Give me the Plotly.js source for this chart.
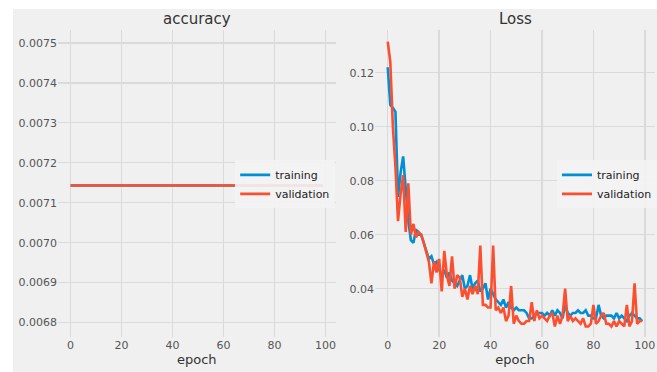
<!DOCTYPE html>
<html>
<head>
<meta charset="utf-8">
<script src="https://cdn.plot.ly/plotly-3.0.1.min.js"></script>
<style>
html,body{margin:0;padding:0;background:#ffffff;width:657px;height:372px;overflow:hidden;}
#chart{position:absolute;left:13px;top:9px;width:644px;height:363px;}
</style>
</head>
<body>
<div id="chart"></div>
<script>
const epochs = [0,1,2,3,4,5,6,7,8,9,10,11,12,13,14,15,16,17,18,19,20,21,22,23,24,25,26,27,28,29,30,31,32,33,34,35,36,37,38,39,40,41,42,43,44,45,46,47,48,49,50,51,52,53,54,55,56,57,58,59,60,61,62,63,64,65,66,67,68,69,70,71,72,73,74,75,76,77,78,79,80,81,82,83,84,85,86,87,88,89,90,91,92,93,94,95,96,97,98,99];

const accTraining = [0.0071429,0.0071429,0.0071429,0.0071429,0.0071429,0.0071429,0.0071429,0.0071429,0.0071429,0.0071429,
0.0071429,0.0071429,0.0071429,0.0071429,0.0071429,0.0071429,0.0071429,0.0071429,0.0071429,0.0071429,
0.0071429,0.0071429,0.0071429,0.0071429,0.0071429,0.0071429,0.0071429,0.0071429,0.0071429,0.0071429,
0.0071429,0.0071429,0.0071429,0.0071429,0.0071429,0.0071429,0.0071429,0.0071429,0.0071429,0.0071429,
0.0071429,0.0071429,0.0071429,0.0071429,0.0071429,0.0071429,0.0071429,0.0071429,0.0071429,0.0071429,
0.0071429,0.0071429,0.0071429,0.0071429,0.0071429,0.0071429,0.0071429,0.0071429,0.0071429,0.0071429,
0.0071429,0.0071429,0.0071429,0.0071429,0.0071429,0.0071429,0.0071429,0.0071429,0.0071429,0.0071429,
0.0071429,0.0071429,0.0071429,0.0071429,0.0071429,0.0071429,0.0071429,0.0071429,0.0071429,0.0071429,
0.0071429,0.0071429,0.0071429,0.0071429,0.0071429,0.0071429,0.0071429,0.0071429,0.0071429,0.0071429,
0.0071429,0.0071429,0.0071429,0.0071429,0.0071429,0.0071429,0.0071429,0.0071429,0.0071429,0.0071429];

const accValidation = [0.0071429,0.0071429,0.0071429,0.0071429,0.0071429,0.0071429,0.0071429,0.0071429,0.0071429,0.0071429,
0.0071429,0.0071429,0.0071429,0.0071429,0.0071429,0.0071429,0.0071429,0.0071429,0.0071429,0.0071429,
0.0071429,0.0071429,0.0071429,0.0071429,0.0071429,0.0071429,0.0071429,0.0071429,0.0071429,0.0071429,
0.0071429,0.0071429,0.0071429,0.0071429,0.0071429,0.0071429,0.0071429,0.0071429,0.0071429,0.0071429,
0.0071429,0.0071429,0.0071429,0.0071429,0.0071429,0.0071429,0.0071429,0.0071429,0.0071429,0.0071429,
0.0071429,0.0071429,0.0071429,0.0071429,0.0071429,0.0071429,0.0071429,0.0071429,0.0071429,0.0071429,
0.0071429,0.0071429,0.0071429,0.0071429,0.0071429,0.0071429,0.0071429,0.0071429,0.0071429,0.0071429,
0.0071429,0.0071429,0.0071429,0.0071429,0.0071429,0.0071429,0.0071429,0.0071429,0.0071429,0.0071429,
0.0071429,0.0071429,0.0071429,0.0071429,0.0071429,0.0071429,0.0071429,0.0071429,0.0071429,0.0071429,
0.0071429,0.0071429,0.0071429,0.0071429,0.0071429,0.0071429,0.0071429,0.0071429,0.0071429,0.0071429];

const lossTraining = [0.122,0.108,0.107,0.1055,0.074,0.083,0.089,0.075,0.065,0.058,
0.057,0.062,0.060,0.060,0.057,0.054,0.051,0.052,0.049,0.050,
0.047,0.045,0.047,0.044,0.046,0.043,0.042,0.041,0.043,0.045,
0.040,0.041,0.045,0.040,0.042,0.043,0.039,0.040,0.042,0.036,
0.040,0.038,0.036,0.035,0.034,0.036,0.033,0.035,0.033,0.032,
0.033,0.032,0.032,0.032,0.031,0.029,0.029,0.030,0.031,0.031,
0.031,0.030,0.031,0.030,0.032,0.030,0.032,0.031,0.029,0.034,
0.031,0.030,0.031,0.031,0.032,0.031,0.031,0.032,0.030,0.030,
0.029,0.029,0.034,0.030,0.029,0.030,0.030,0.030,0.029,0.031,
0.029,0.030,0.029,0.028,0.030,0.031,0.030,0.029,0.029,0.028];

const lossValidation = [0.1315,0.124,0.100,0.085,0.065,0.075,0.082,0.061,0.079,0.060,
0.064,0.059,0.061,0.060,0.057,0.053,0.050,0.042,0.050,0.046,
0.051,0.039,0.054,0.045,0.041,0.052,0.040,0.045,0.044,0.037,
0.040,0.036,0.041,0.038,0.041,0.038,0.056,0.034,0.034,0.033,
0.033,0.056,0.032,0.033,0.031,0.033,0.028,0.030,0.041,0.027,
0.030,0.028,0.027,0.027,0.028,0.028,0.035,0.028,0.032,0.029,
0.030,0.029,0.028,0.030,0.031,0.026,0.030,0.027,0.030,0.040,
0.028,0.030,0.028,0.029,0.028,0.027,0.029,0.026,0.026,0.027,
0.034,0.027,0.028,0.030,0.031,0.027,0.027,0.026,0.028,0.026,
0.028,0.027,0.026,0.034,0.026,0.028,0.042,0.027,0.028,0.028];

const seriesNames = ['training', 'validation'];
const panelTitles = ['accuracy', 'Loss'];
const xTicks = [0, 20, 40, 60, 80, 100];

const BLUE = '#008fd5', RED = '#fc4f30', GRID = '#dadada', BG = '#f0f0f0';
const FONT = 'DejaVu Sans, sans-serif';
const LW = 2.6;

const traces = [
  {x: epochs, y: accTraining, name: seriesNames[0], type: 'scatter', mode: 'lines', line: {color: BLUE, width: LW}, xaxis: 'x', yaxis: 'y', legend: 'legend'},
  {x: epochs, y: accValidation, name: seriesNames[1], type: 'scatter', mode: 'lines', line: {color: RED, width: LW}, xaxis: 'x', yaxis: 'y', legend: 'legend'},
  {x: epochs, y: lossTraining, name: seriesNames[0], type: 'scatter', mode: 'lines', line: {color: BLUE, width: LW}, xaxis: 'x2', yaxis: 'y2', legend: 'legend2'},
  {x: epochs, y: lossValidation, name: seriesNames[1], type: 'scatter', mode: 'lines', line: {color: RED, width: LW}, xaxis: 'x2', yaxis: 'y2', legend: 'legend2'}
];

const tickFont = {family: FONT, size: 11, color: '#555555'};
function xAxis(domain, anchor) {
  return {
    domain: domain, anchor: anchor, range: [-4.95, 103.95], automargin: false,
    tickvals: xTicks, ticktext: xTicks.map(String),
    showgrid: true, gridcolor: GRID, gridwidth: 1.5, zeroline: false, showline: false,
    ticks: '', tickfont: tickFont,
    title: {text: 'epoch', font: {family: FONT, size: 13, color: '#333333'}, standoff: 2}
  };
}
const legendCommon = {
  bgcolor: 'rgba(243,243,243,0.9)', borderwidth: 0,
  font: {family: FONT, size: 11, color: '#222222'},
  xref: 'container', yref: 'container',
  xanchor: 'left', yanchor: 'top', tracegroupgap: 0, itemwidth: 30
};

const layout = {
  width: 644, height: 363,
  paper_bgcolor: BG, plot_bgcolor: BG,
  margin: {l: 45, r: 2, t: 21, b: 35, autoexpand: false},
  font: {family: FONT},
  xaxis: xAxis([0, 0.465], 'y'),
  yaxis: {
    domain: [0, 1], anchor: 'x', range: [0.006764, 0.007532], automargin: false,
    dtick: 0.0001, tick0: 0.0068, tickformat: '.4f',
    showgrid: true, gridcolor: GRID, gridwidth: 1.5, zeroline: false, showline: false, ticks: '', tickfont: tickFont
  },
  xaxis2: xAxis([0.531, 1], 'y2'),
  yaxis2: {
    domain: [0, 1], anchor: 'x2', range: [0.0221, 0.1358], automargin: false,
    dtick: 0.02, tick0: 0, tickformat: '.2f',
    showgrid: true, gridcolor: GRID, gridwidth: 1.5, zeroline: false, showline: false, ticks: '', tickfont: tickFont
  },
  legend: Object.assign({x: 0.345, y: 0.583}, legendCommon),
  legend2: Object.assign({x: 0.8447, y: 0.583}, legendCommon),
  annotations: [
    {text: panelTitles[0], xref: 'paper', yref: 'paper', x: 0.2325, y: 1.036, xanchor: 'center', yanchor: 'middle', showarrow: false, font: {family: FONT, size: 15, color: '#333333'}},
    {text: panelTitles[1], xref: 'paper', yref: 'paper', x: 0.7655, y: 1.036, xanchor: 'center', yanchor: 'middle', showarrow: false, font: {family: FONT, size: 15, color: '#333333'}}
  ],
  showlegend: true
};

Plotly.newPlot('chart', traces, layout, {displayModeBar: false, staticPlot: true});
</script>
</body>
</html>
